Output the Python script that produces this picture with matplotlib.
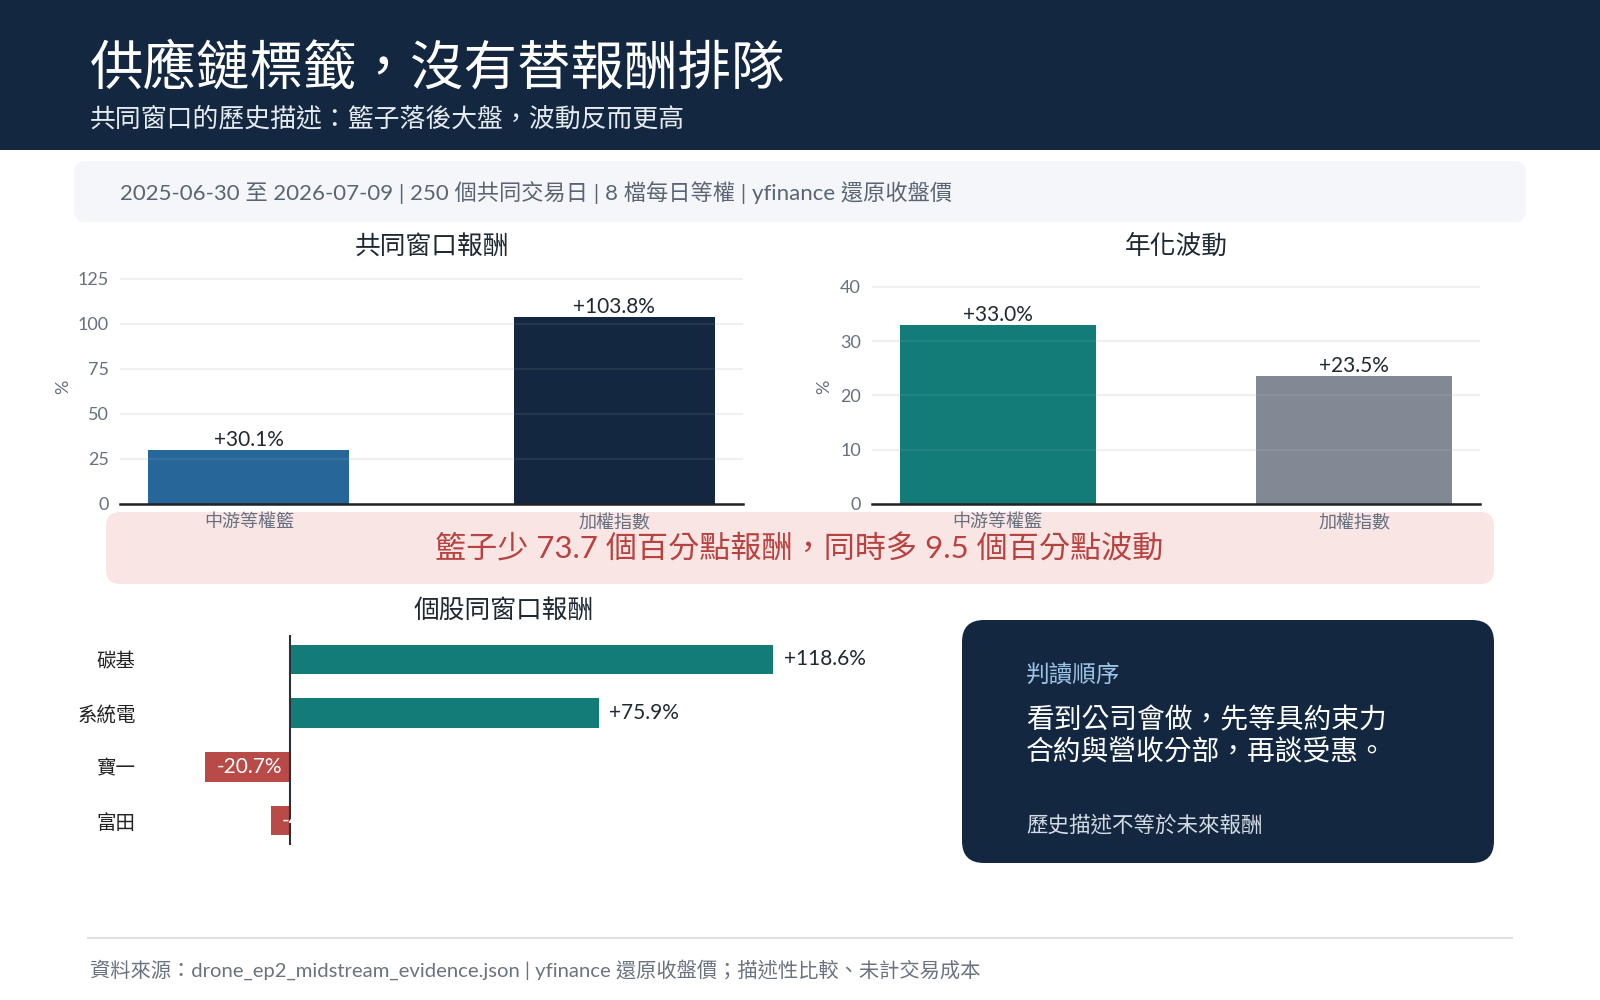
import matplotlib as mpl
mpl.use("Agg")
import matplotlib.pyplot as plt
from matplotlib.patches import FancyBboxPatch

plt.rcParams["font.family"] = ["Lato", "Noto Sans CJK TC", "DejaVu Sans"]

W, H = 1600, 1000

# ── data ────────────────────────────────────────────────────────────────
categories = ["中游等權籃", "加權指數"]
window_return = [30.1, 103.8]
annual_vol = [33.0, 23.5]
stocks = ["碳基", "系統電", "寶一", "富田"]
stock_return = [118.6, 75.9, -20.7, -4.7]

title = "供應鏈標籤，沒有替報酬排隊"
subtitle = "共同窗口的歷史描述：籃子落後大盤，波動反而更高"
info = "2025-06-30 至 2026-07-09 | 250 個共同交易日 | 8 檔每日等權 | yfinance 還原收盤價"
banner = "籃子少 73.7 個百分點報酬，同時多 9.5 個百分點波動"
note_head = "判讀順序"
note_body = "看到公司會做，先等具約束力\n合約與營收分部，再談受惠。"
note_foot = "歷史描述不等於未來報酬"
source = "資料來源：drone_ep2_midstream_evidence.json | yfinance 還原收盤價；描述性比較、未計交易成本"

NAVY = "#132840"
BLUE = "#276699"
TEAL = "#137c78"
GREY = "#808994"
RED = "#b84a48"
TICK = "#667080"

fig = plt.figure(figsize=(16, 10), dpi=100)
fig.patch.set_facecolor("white")


def box(x0, y0, x1, y1, color, r=0.0):
    style = f"round,pad=0,rounding_size={r}" if r else "square,pad=0"
    p = FancyBboxPatch((x0 / 100, (H - y1) / 100), (x1 - x0) / 100, (y1 - y0) / 100,
                       boxstyle=style, transform=fig.dpi_scale_trans,
                       fc=color, ec="none", zorder=-1)
    fig.add_artist(p)


def ftext(x, y, s, **kw):
    return fig.text(x / W, 1 - y / H, s, **kw)


def add_ax(x0, y0, x1, y1):
    ax = fig.add_axes([x0 / W, 1 - y1 / H, (x1 - x0) / W, (y1 - y0) / H])
    ax.set_facecolor("none")
    return ax


# ── header / panels ───────────────────────────────────────────────────
box(0, 0, W, 150, NAVY)
ftext(90, 68, title, fontsize=38.5, color="white", va="center", fontweight="medium")
ftext(90, 119, subtitle, fontsize=18.6, color="#e6ebf2", va="center")

box(74, 161, 1526, 222, "#f4f6fa", r=0.12)
ftext(120, 193, info, fontsize=16, color="#5a6473", va="center")

box(106, 512, 1494, 584, "#f8e5e4", r=0.14)
ftext(799, 549, banner, fontsize=22.4, color="#b84240", ha="center", va="center")

box(962, 620, 1494, 863, NAVY, r=0.22)
ftext(1026, 676, note_head, fontsize=17, color="#9ec3e6", va="center")
ftext(1026, 736, note_body, fontsize=20, color="white", va="center", linespacing=1.27)
ftext(1026, 825, note_foot, fontsize=15.5, color="#d3dae4", va="center")

fig.add_artist(plt.Line2D([88 / W, 1512 / W], [1 - 938 / H, 1 - 938 / H],
                          color="#dde1e7", lw=1.5, transform=fig.transFigure))
ftext(90, 970, source, fontsize=14.6, color="#6b7280", va="center")


# ── top bar charts ─────────────────────────────────────────────────────
def vbar(ax, values, colors, ymax, ticks):
    x = range(len(values))
    ax.bar(x, values, width=0.55, color=colors, zorder=2)
    ax.set_ylim(0, ymax)
    ax.set_yticks(ticks)
    ax.set_xticks(list(x))
    ax.set_xticklabels(categories)
    ax.grid(axis="y", color="#eeeeee", lw=1.2, zorder=0)
    ax.set_axisbelow(True)
    for t in ticks[1:]:
        ax.axhline(t, color="white", alpha=0.08, lw=1.2, zorder=3)
    for s in ["top", "right", "left"]:
        ax.spines[s].set_visible(False)
    ax.spines["bottom"].set_color("#222222")
    ax.spines["bottom"].set_linewidth(1.8)
    ax.spines["bottom"].set_zorder(4)
    ax.tick_params(length=0, labelsize=13, labelcolor=TICK)
    ax.tick_params(axis="y", pad=8)
    ax.tick_params(axis="x", pad=7)
    for i, v in enumerate(values):
        ax.annotate(f"+{v:.1f}%", (i, v), xytext=(0, 0), textcoords="offset points",
                    ha="center", va="bottom", fontsize=15, color="#1f2933")
    ax.set_ylabel("%", fontsize=13, color=TICK)


ax1 = add_ax(120, 269.5, 743, 504)
vbar(ax1, window_return, [BLUE, NAVY], 130, [0, 25, 50, 75, 100, 125])
ax1.yaxis.set_label_coords(-0.079, 0.5)
ftext(432, 246, "共同窗口報酬", fontsize=18.5, color="#1f2933", ha="center", va="center",
      fontweight="medium")

ax2 = add_ax(872, 269.5, 1480, 504)
vbar(ax2, annual_vol, [TEAL, GREY], 43.2, [0, 10, 20, 30, 40])
ax2.yaxis.set_label_coords(-0.065, 0.5)
ftext(1176, 246, "年化波動", fontsize=18.5, color="#1f2933", ha="center", va="center",
      fontweight="medium")

# ── per-stock horizontal bars ──────────────────────────────────────────
ax3 = add_ax(147, 635, 881, 845)
y = range(len(stocks))
ax3.barh(y, stock_return, height=0.55,
         color=[TEAL if v >= 0 else RED for v in stock_return], zorder=2)
ax3.set_ylim(3.4525, -0.4525)
ax3.set_xlim(-35, 145)
ax3.axvline(0, color="#2b2f36", lw=1.5, zorder=3)
ax3.set_yticks(list(y))
ax3.set_yticklabels(stocks)
ax3.set_xticks([])
for s in ax3.spines.values():
    s.set_visible(False)
ax3.tick_params(length=0, labelsize=14, labelcolor="#222222", pad=8)
for i, v in enumerate(stock_return):
    if v >= 0:
        ax3.text(v + 2.5, i, f"+{v:.1f}%", ha="left", va="center", fontsize=15,
                 color="#1f2933", zorder=4)
    else:
        ax3.text(v + 2.7, i, f"{v:.1f}%", ha="left", va="center", fontsize=15,
                 color="white", zorder=4)
ftext(504, 610, "個股同窗口報酬", fontsize=18.5, color="#1f2933", ha="center", va="center",
      fontweight="medium")

fig.savefig("out.png", dpi=100)
